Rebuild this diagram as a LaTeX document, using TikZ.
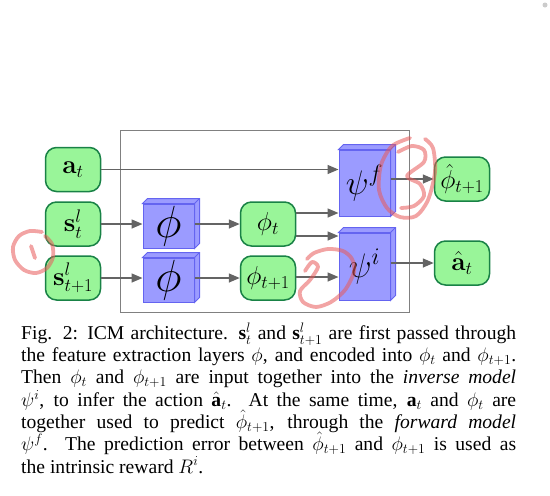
\RequirePackage{fix-cm}
\documentclass[tikz,border=0pt]{standalone}
\usepackage[no-math]{fontspec}
\setmainfont{Liberation Serif}
\usetikzlibrary{arrows.meta}
\definecolor{nodegreen}{RGB}{153,245,153}
\definecolor{nodeedge}{RGB}{25,130,70}
\definecolor{cubefill}{RGB}{155,155,255}
\definecolor{cubeedge}{RGB}{100,100,240}
\definecolor{arrowgray}{RGB}{100,100,100}
\definecolor{scribble}{RGB}{232,90,90}
\newcommand\cubedepth[1]{%
  \filldraw[cubebox] (#1.north west) -- ([shift={(5pt,5pt)}]#1.north west) -- ([shift={(5pt,5pt)}]#1.north east) -- ([shift={(5pt,5pt)}]#1.south east) -- (#1.south east) -- (#1.north east) -- cycle;
  \draw[cubeedge, line width=1pt] (#1.north east) -- ([shift={(5pt,5pt)}]#1.north east);}
\begin{document}
\begin{tikzpicture}[x=1pt,y=-1pt,
  gnode/.style={draw=nodeedge, fill=nodegreen, line width=1.5pt, rounded corners=11pt,
    minimum width=55pt, minimum height=44pt, inner sep=0pt, font=\fontsize{26}{30}\selectfont},
  cubebox/.style={draw=cubeedge, fill=cubefill, line width=1pt, inner sep=0pt},
  flow/.style={draw=arrowgray, line width=1.5pt, -{Triangle[length=11pt,width=9pt]}},
  scrib/.style={draw=scribble, opacity=0.55, line width=3.8pt, line cap=round, line join=round},
  capline/.style={anchor=base west, inner sep=0pt, font=\fontsize{19.6}{22.3}\selectfont}
]
\useasboundingbox (0,0) rectangle (550,496);
\fill[gray!40] (545,5) circle (2.5pt);

% frame
\draw[gray, line width=1pt] (120,130) rectangle (409,312);

% input nodes
\node[gnode] (at) at (73,169.5) {$\mathbf{a}_t$};
\node[gnode] (st) at (73,224) {$\mathbf{s}_t^l$};
\node[gnode] (st1) at (73,278) {$\mathbf{s}_{t+1}^l$};

% feature cubes
\node[cubebox, minimum width=51pt, minimum height=44pt] (phione) at (168.5,226) {\fontsize{45}{50}\selectfont$\phi$};
\cubedepth{phione}
\node[cubebox, minimum width=51pt, minimum height=44pt] (phitwo) at (168.5,280) {\fontsize{45}{50}\selectfont$\phi$};
\cubedepth{phitwo}

% features
\node[gnode] (phit) at (268,224) {$\phi_t$};
\node[gnode] (phit1) at (268,278) {$\phi_{t+1}$};

% models
\node[cubebox, minimum width=51pt, minimum height=66pt] (psif) at (364.5,183) {\fontsize{34}{40}\selectfont$\psi^f$};
\cubedepth{psif}
\node[cubebox, minimum width=51pt, minimum height=67pt] (psii) at (364.5,266.5) {\fontsize{34}{40}\selectfont$\psi^i$};
\cubedepth{psii}

% outputs
\node[gnode] (phihat) at (462,179) {$\hat{\phi}_{t+1}$};
\node[gnode] (ahat) at (462,263) {$\hat{\mathbf{a}}_t$};

% connectors
\draw[flow] (at.east) -- (at.east -| psif.west);
\draw[flow] (st.east) -- (st.east -| phione.west);
\draw[flow] (st1.east) -- (st1.east -| phitwo.west);
\draw[flow] (phione.east |- phit.west) -- (phit.west);
\draw[flow] (phitwo.east |- phit1.west) -- (phit1.west);
\draw[flow] ([yshift=11pt]phit.east) -- ([yshift=11pt]phit.east -| psif.west);
\draw[flow] ([yshift=-12pt]phit.east) -- ([yshift=-12pt]phit.east -| psii.west);
\draw[flow] ([yshift=1pt]phit1.east) -- ([yshift=1pt]phit1.east -| psii.west);
\draw[flow] (psif.east |- phihat.west) -- (phihat.west);
\draw[flow] (psii.east |- ahat.west) -- (ahat.west);

% caption
\node[capline] (c1) at (21,339.3) {\makebox[495pt][s]{Fig. 2: ICM architecture. $\textbf{s}_t^l$ and $\textbf{s}_{t+1}^l$ are first passed through}};
\node[capline] (c2) at (21,361.6) {\makebox[495pt][s]{the feature extraction layers $\phi$, and encoded into $\phi_t$ and $\phi_{t+1}$.}};
\node[capline] (c3) at (21,383.9) {\makebox[495pt][s]{Then $\phi_t$ and $\phi_{t+1}$ are input together into the \textit{inverse model}}};
\node[capline] (c4) at (21,406.2) {\makebox[495pt][s]{$\psi^i$, to infer the action $\hat{\textbf{a}}_t$. At the same time, $\textbf{a}_t$ and $\phi_t$ are}};
\node[capline] (c5) at (21,428.5) {\makebox[495pt][s]{together used to predict $\hat{\phi}_{t+1}$, through the \textit{forward model}}};
\node[capline] (c6) at (21,450.8) {\makebox[495pt][s]{$\psi^f$. The prediction error between $\hat{\phi}_{t+1}$ and $\phi_{t+1}$ is used as}};
\node[capline] (c7) at (21,473.1) {the intrinsic reward $R^i$.};

% hand-drawn annotations
\draw[scrib] plot[smooth] coordinates {(42,232) (30,231) (19,236) (13,247) (15,260) (24,270) (36,273) (47,268) (53,257) (52,244) (45,236)};
\draw[scrib] (31,246) -- (35,258);
\draw[scrib] plot[smooth] coordinates {(305,271) (312,262) (318,267) (310,280) (300,291) (303,302) (316,307) (331,302) (345,290) (354,272) (352,259) (343,251) (328,249) (314,253) (307,259)};
\draw[scrib] plot[smooth] coordinates {(410,138) (392,146) (381,165) (379,190) (387,208) (400,217) (416,216) (428,200) (435,172) (433,148) (425,139)};
\draw[scrib] plot[smooth] coordinates {(398,152) (412,146) (424,150) (424,162) (407,176) (420,184) (424,196) (414,206) (401,208)};
\end{tikzpicture}
\end{document}
